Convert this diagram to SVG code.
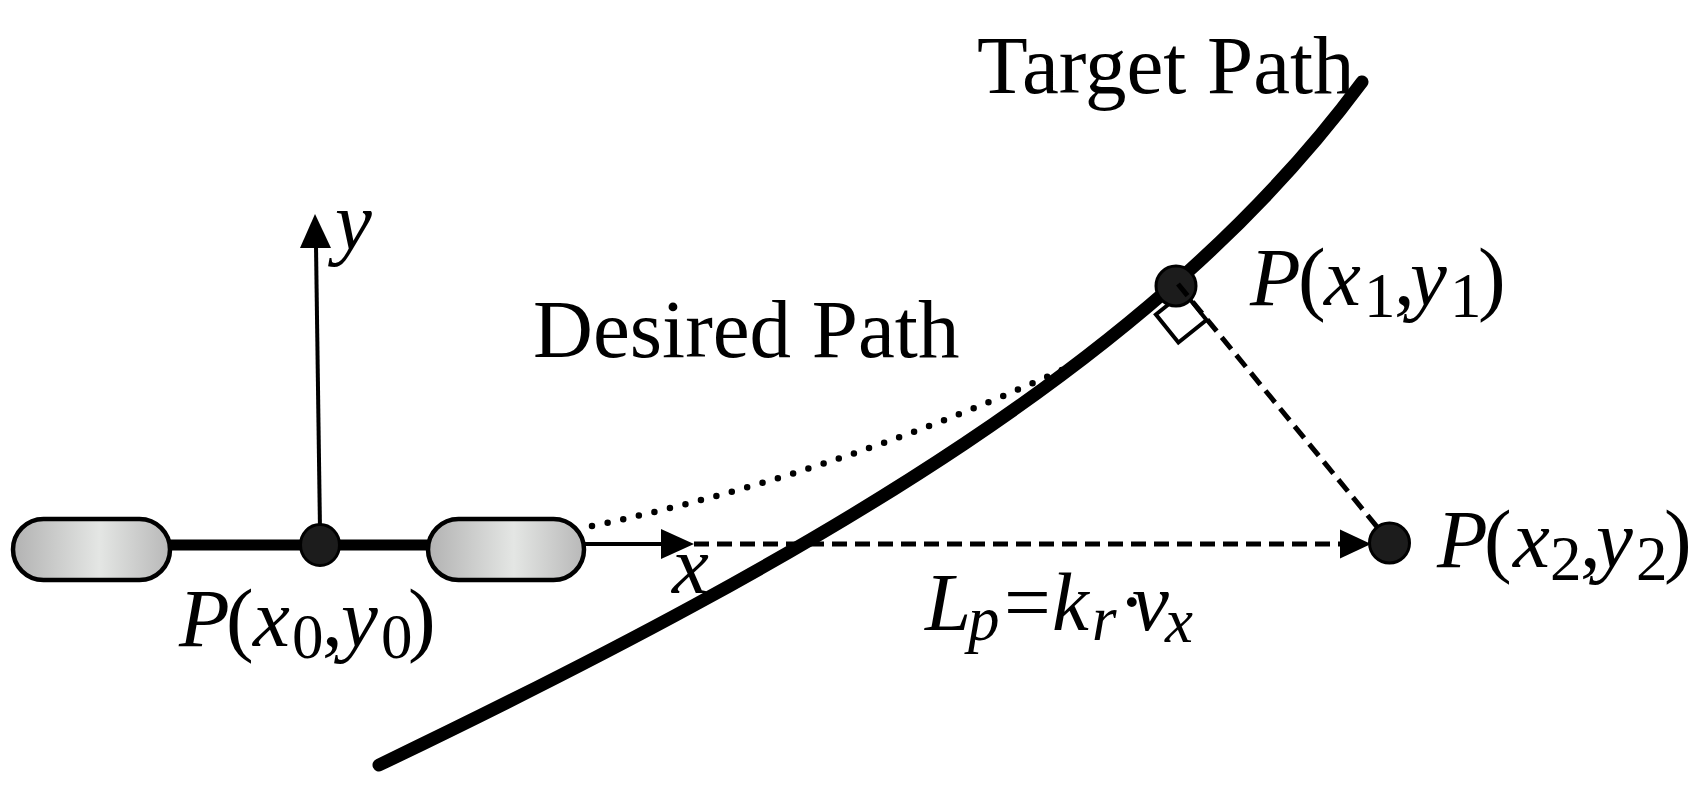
<svg xmlns="http://www.w3.org/2000/svg" width="1694" height="786" viewBox="0 0 1694 786">
<defs>
<linearGradient id="wheelGrad" x1="0" y1="0" x2="1" y2="0">
<stop offset="0" stop-color="#b2b2b2"/>
<stop offset="0.55" stop-color="#e4e6e4"/>
<stop offset="1" stop-color="#b8b8b8"/>
</linearGradient>
</defs>
<style>
text{font-family:"Liberation Serif","Times New Roman",serif;fill:#000}
.lbl{font-size:83px}
.it{font-style:italic}
.sub{font-size:63px}
.wheel{fill:url(#wheelGrad);stroke:#000;stroke-width:4.5}
.pt{fill:#1c1c1c;stroke:#000;stroke-width:3}
.thin{stroke:#000;stroke-width:4;fill:none}
.dash{stroke:#000;stroke-width:5;fill:none;stroke-dasharray:15 8}
.dotted{stroke:#000;stroke-width:6.5;fill:none;stroke-dasharray:0 16;stroke-linecap:round}
.target{stroke:#000;stroke-width:13;fill:none;stroke-linecap:round}
.head{fill:#000}
</style>
<rect width="1694" height="786" fill="#fff"/>

<g id="vehicle">
<line x1="160" y1="545" x2="440" y2="545" stroke="#000" stroke-width="11"/>
<rect id="wheel-left" class="wheel" x="13" y="519" width="157" height="61" rx="30.5"/>
<rect id="wheel-right" class="wheel" x="428" y="519" width="156" height="61" rx="30.5"/>
</g>

<g id="connectors">
<path id="desired-path" class="dotted" d="M592,526 Q830,476 1062,370"/>
<line class="thin" x1="320" y1="530" x2="316" y2="246"/>
<polygon class="head" points="315,214 300,248 331,248"/>
<line class="thin" x1="584" y1="544" x2="664" y2="544"/>
<polygon class="head" points="694,544 661,529 661,559"/>
<line class="dash" x1="694" y1="544" x2="1342" y2="544"/>
<polygon class="head" points="1371,544 1340,529.5 1340,558.5"/>
<polygon class="thin" points="1184,292 1206.5,320 1178.4,342.5 1155.9,314.5"/>
<path id="target-path" class="target" d="M379,765 C829,549 1162,352 1362,82"/>
</g>

<g id="point-p0"><ellipse class="pt" cx="320" cy="545" rx="19.5" ry="20.5"/></g>
<g id="point-p1"><circle class="pt" cx="1176" cy="286" r="20"/></g>
<g id="point-p2"><circle class="pt" cx="1389.5" cy="543" r="20"/></g>
<line class="dash" x1="1178" y1="284" x2="1378" y2="528"/>

<g id="labels">
<text class="lbl" x="977" y="93">Target Path</text>
<text class="lbl" x="533" y="357">Desired Path</text>
<text class="lbl it" x="335" y="249">y</text>
<text class="lbl it" x="672" y="593">x</text>
<text class="lbl"><tspan class="it" x="179" y="646">P</tspan><tspan x="226">(</tspan><tspan class="it" x="253">x</tspan><tspan class="sub" x="292" y="658">0</tspan><tspan x="322" y="646">,</tspan><tspan class="it" x="341">y</tspan><tspan class="sub" x="381" y="658">0</tspan><tspan x="408" y="646">)</tspan></text>
<text class="lbl"><tspan class="it" x="1250" y="305">P</tspan><tspan x="1298">(</tspan><tspan class="it" x="1324">x</tspan><tspan class="sub" x="1364" y="317">1</tspan><tspan x="1394" y="305">,</tspan><tspan class="it" x="1410">y</tspan><tspan class="sub" x="1450" y="317">1</tspan><tspan x="1478" y="305">)</tspan></text>
<text class="lbl"><tspan class="it" x="1437" y="567">P</tspan><tspan x="1484">(</tspan><tspan class="it" x="1513">x</tspan><tspan class="sub" x="1550" y="580">2</tspan><tspan x="1580" y="567">,</tspan><tspan class="it" x="1596">y</tspan><tspan class="sub" x="1636" y="580">2</tspan><tspan x="1664" y="567">)</tspan></text>
<text class="lbl"><tspan class="it" x="925" y="630">L</tspan><tspan class="it sub" x="968" y="640">p</tspan><tspan x="1004" y="630">=</tspan><tspan class="it" x="1052">k</tspan><tspan class="it sub" x="1092" y="640">r</tspan><tspan x="1118" y="630">·</tspan><tspan class="it" x="1132">v</tspan><tspan class="it sub" x="1165" y="642">x</tspan></text>
</g>
</svg>
